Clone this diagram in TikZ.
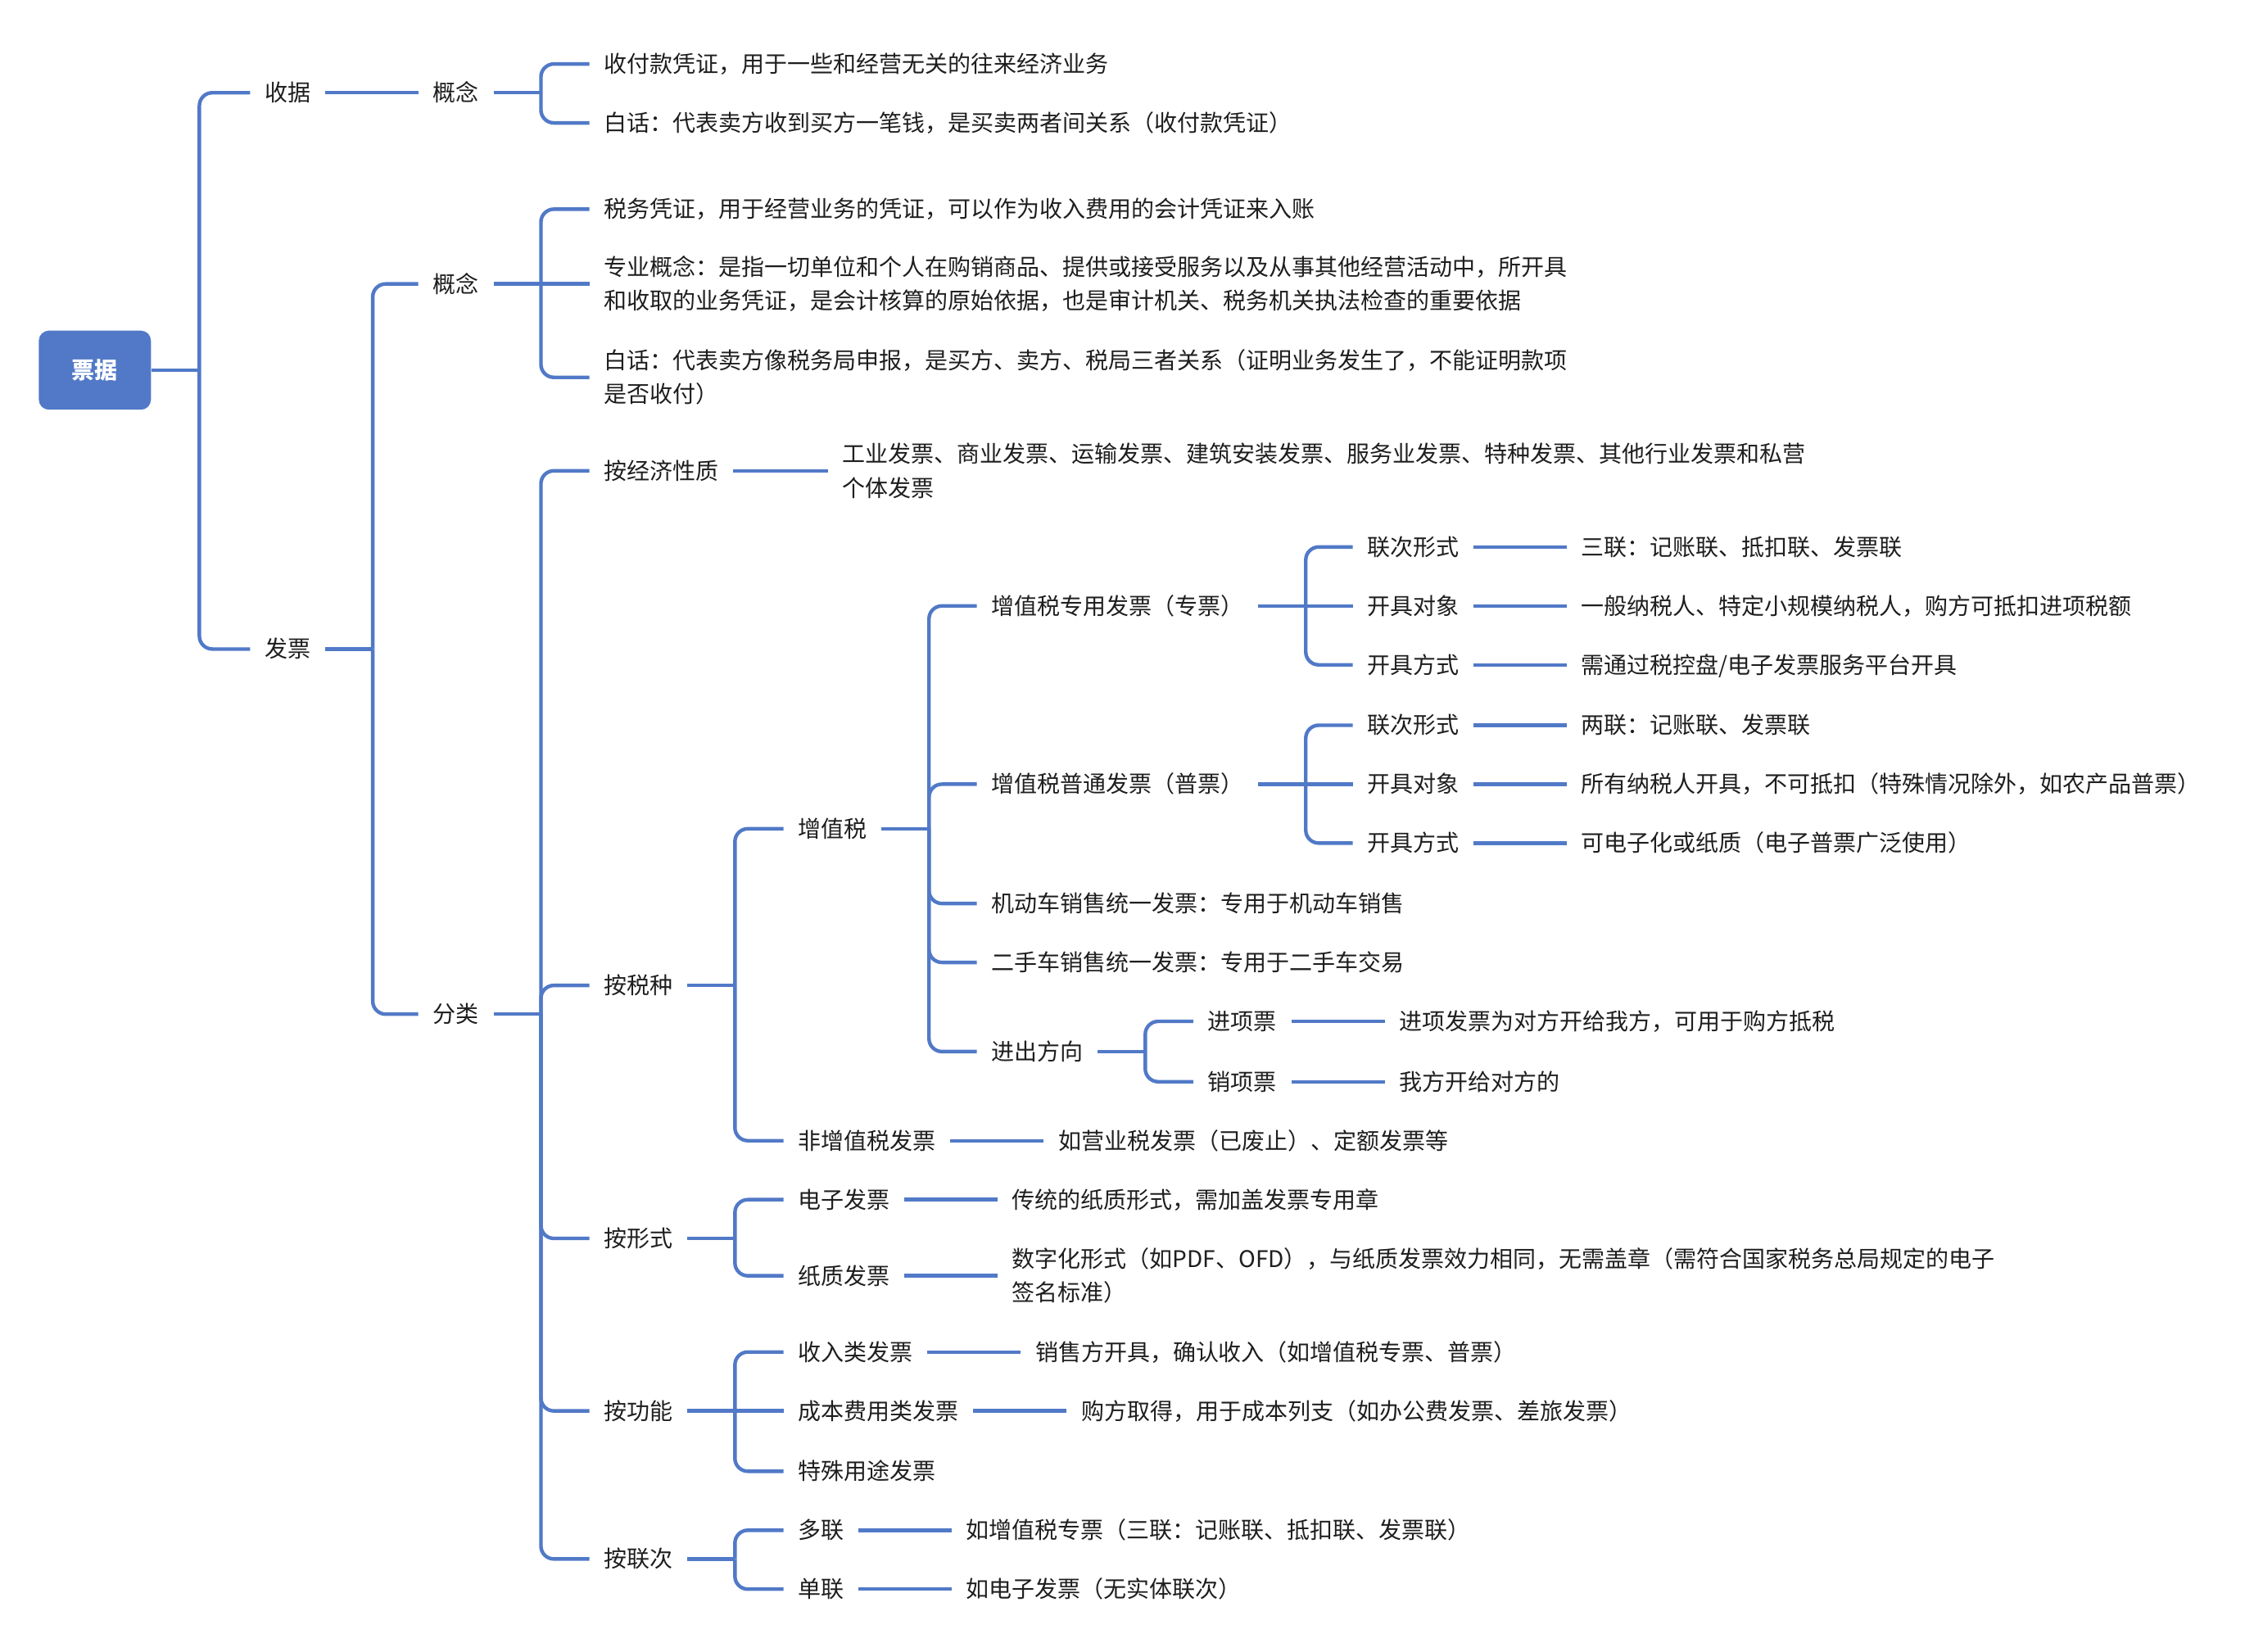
\documentclass[tikz,border=0pt]{standalone}
\usepackage{fontspec}
\newfontfamily\cjk{Noto Sans CJK SC}
\definecolor{lc}{RGB}{81,121,199}
\definecolor{tc}{RGB}{30,30,30}
\tikzset{
  txt/.style={anchor=west, inner xsep=10pt, inner ysep=0pt, text=tc,
    font=\cjk\fontsize{15.95}{23.5}\selectfont, text height=13.3pt, text depth=1.3pt},
  mtxt/.style={anchor=west, inner xsep=10pt, inner ysep=0pt, text=tc,
    font=\cjk\fontsize{15.95}{23.5}\selectfont, align=left},
  rootbox/.style={rectangle, rounded corners=7pt, fill=lc, text=white,
    minimum width=78pt, minimum height=55pt, inner sep=0pt,
    font=\cjk\bfseries\fontsize{15.95}{19}\selectfont},
  conn/.style={draw=lc, line width=2.5pt, rounded corners=9pt},
}
\begin{document}
\begin{tikzpicture}[x=1pt,y=-1pt]
\useasboundingbox (0,0) rectangle (1568,1149);
\node[rootbox] (root) at (66,257.5) {票据};
% level 1
\node[txt] (sj) at (174,64.5) {收据};
\node[txt] (fp) at (174,451.5) {发票};
% level 2
\node[txt] (gn1) at (291,64.5) {概念};
\node[txt] (gn2) at (291,197.5) {概念};
\node[txt] (fl) at (291,705.5) {分类};
% level 3
\node[txt] (a1) at (410,44.5) {收付款凭证，用于一些和经营无关的往来经济业务};
\node[txt] (a2) at (410,85.5) {白话：代表卖方收到买方一笔钱，是买卖两者间关系（收付款凭证）};
\node[txt] (b1) at (410,145.5) {税务凭证，用于经营业务的凭证，可以作为收入费用的会计凭证来入账};
\node[mtxt] (b2) at (410,197.5) {专业概念：是指一切单位和个人在购销商品、提供或接受服务以及从事其他经营活动中，所开具\\和收取的业务凭证，是会计核算的原始依据，也是审计机关、税务机关执法检查的重要依据};
\node[mtxt] (b3) at (410,262.5) {白话：代表卖方像税务局申报，是买方、卖方、税局三者关系（证明业务发生了，不能证明款项\\是否收付）};
\node[txt] (c1) at (410,327.5) {按经济性质};
\node[mtxt] (c1v) at (576,327.5) {工业发票、商业发票、运输发票、建筑安装发票、服务业发票、特种发票、其他行业发票和私营\\个体发票};
\node[txt] (c2) at (410,685.5) {按税种};
\node[txt] (c3) at (410,861.5) {按形式};
\node[txt] (c4) at (410,981.5) {按功能};
\node[txt] (c5) at (410,1084.5) {按联次};
% 按税种
\node[txt] (zz) at (545,576.5) {增值税};
\node[txt] (fzz) at (545,793.5) {非增值税发票};
\node[txt] (fzzv) at (726,793.5) {如营业税发票（已废止）、定额发票等};
\node[txt] (zp) at (679.5,421.5) {增值税专用发票（专票）};
\node[txt] (pp) at (679.5,545.5) {增值税普通发票（普票）};
\node[txt] (jdc) at (679.5,628.5) {机动车销售统一发票：专用于机动车销售};
\node[txt] (esc) at (679.5,669.5) {二手车销售统一发票：专用于二手车交易};
\node[txt] (jc) at (679.5,731.5) {进出方向};
\node[txt] (zp1) at (941,380.5) {联次形式};
\node[txt] (zp2) at (941,421.5) {开具对象};
\node[txt] (zp3) at (941,462.5) {开具方式};
\node[txt] (zp1v) at (1090,380.5) {三联：记账联、抵扣联、发票联};
\node[txt] (zp2v) at (1090,421.5) {一般纳税人、特定小规模纳税人，购方可抵扣进项税额};
\node[txt] (zp3v) at (1090,462.5) {需通过税控盘/电子发票服务平台开具};
\node[txt] (pp1) at (941,504.5) {联次形式};
\node[txt] (pp2) at (941,545.5) {开具对象};
\node[txt] (pp3) at (941,586.5) {开具方式};
\node[txt] (pp1v) at (1090,504.5) {两联：记账联、发票联};
\node[txt] (pp2v) at (1090,545.5) {所有纳税人开具，不可抵扣（特殊情况除外，如农产品普票）};
\node[txt] (pp3v) at (1090,586.5) {可电子化或纸质（电子普票广泛使用）};
\node[txt] (jx) at (830,710.5) {进项票};
\node[txt] (xx) at (830,752.5) {销项票};
\node[txt] (jxv) at (963.5,710.5) {进项发票为对方开给我方，可用于购方抵税};
\node[txt] (xxv) at (963.5,752.5) {我方开给对方的};
% 按形式
\node[txt] (dz) at (545,834.5) {电子发票};
\node[txt] (zz2) at (545,887.5) {纸质发票};
\node[txt] (dzv) at (694,834.5) {传统的纸质形式，需加盖发票专用章};
\node[mtxt] (zz2v) at (694,887.5) {数字化形式（如PDF、OFD），与纸质发票效力相同，无需盖章（需符合国家税务总局规定的电子\\签名标准）};
% 按功能
\node[txt] (sr) at (545,940.5) {收入类发票};
\node[txt] (cb) at (545,981.5) {成本费用类发票};
\node[txt] (ts) at (545,1023.5) {特殊用途发票};
\node[txt] (srv) at (710,940.5) {销售方开具，确认收入（如增值税专票、普票）};
\node[txt] (cbv) at (742,981.5) {购方取得，用于成本列支（如办公费发票、差旅发票）};
% 按联次
\node[txt] (dl) at (545,1064.5) {多联};
\node[txt] (dl2) at (545,1105.5) {单联};
\node[txt] (dlv) at (662,1064.5) {如增值税专票（三联：记账联、抵扣联、发票联）};
\node[txt] (dl2v) at (662,1105.5) {如电子发票（无实体联次）};

% connectors
\draw[conn] (root.east) -- ++(33.5,0) coordinate (j0);
\draw[conn] (j0) |- (sj.west);
\draw[conn] (j0) |- (fp.west);
\draw[conn] (sj.east) -- (gn1.west);
\draw[conn] (gn1.east) -- ++(33,0) coordinate (j1);
\draw[conn] (j1) |- (a1.west);
\draw[conn] (j1) |- (a2.west);
\draw[conn] (fp.east) -- ++(33,0) coordinate (j2);
\draw[conn] (j2) |- (gn2.west);
\draw[conn] (j2) |- (fl.west);
\draw[conn] (gn2.east) -- ++(33,0) coordinate (j3);
\draw[conn] (j3) |- (b1.west);
\draw[conn] (j3) -- (b2.west);
\draw[conn] (j3) |- (b3.west);
\draw[conn] (fl.east) -- ++(33,0) coordinate (j4);
\foreach \n in {c1,c2,c3,c4,c5} \draw[conn] (j4) |- (\n.west);
\draw[conn] (c1.east) -- (c1v.west);
% 按税种
\draw[conn] (c2.east) -- ++(33,0) coordinate (j5);
\draw[conn] (j5) |- (zz.west);
\draw[conn] (j5) |- (fzz.west);
\draw[conn] (fzz.east) -- (fzzv.west);
\draw[conn] (zz.east) -- ++(33,0) coordinate (j6);
\foreach \n in {zp,pp,jdc,esc,jc} \draw[conn] (j6) |- (\n.west);
\draw[conn] (zp.east) -- ++(33,0) coordinate (j7);
\draw[conn] (j7) |- (zp1.west);
\draw[conn] (j7) -- (zp2.west);
\draw[conn] (j7) |- (zp3.west);
\draw[conn] (zp1.east) -- (zp1v.west);
\draw[conn] (zp2.east) -- (zp2v.west);
\draw[conn] (zp3.east) -- (zp3v.west);
\draw[conn] (pp.east) -- ++(33,0) coordinate (j8);
\draw[conn] (j8) |- (pp1.west);
\draw[conn] (j8) -- (pp2.west);
\draw[conn] (j8) |- (pp3.west);
\draw[conn] (pp1.east) -- (pp1v.west);
\draw[conn] (pp2.east) -- (pp2v.west);
\draw[conn] (pp3.east) -- (pp3v.west);
\draw[conn] (jc.east) -- ++(33,0) coordinate (j9);
\draw[conn] (j9) |- (jx.west);
\draw[conn] (j9) |- (xx.west);
\draw[conn] (jx.east) -- (jxv.west);
\draw[conn] (xx.east) -- (xxv.west);
% 按形式
\draw[conn] (c3.east) -- ++(33,0) coordinate (j10);
\draw[conn] (j10) |- (dz.west);
\draw[conn] (j10) |- (zz2.west);
\draw[conn] (dz.east) -- (dzv.west);
\draw[conn] (zz2.east) -- (zz2v.west);
% 按功能
\draw[conn] (c4.east) -- ++(33,0) coordinate (j11);
\draw[conn] (j11) |- (sr.west);
\draw[conn] (j11) -- (cb.west);
\draw[conn] (j11) |- (ts.west);
\draw[conn] (sr.east) -- (srv.west);
\draw[conn] (cb.east) -- (cbv.west);
% 按联次
\draw[conn] (c5.east) -- ++(33,0) coordinate (j12);
\draw[conn] (j12) |- (dl.west);
\draw[conn] (j12) |- (dl2.west);
\draw[conn] (dl.east) -- (dlv.west);
\draw[conn] (dl2.east) -- (dl2v.west);
\end{tikzpicture}
\end{document}
